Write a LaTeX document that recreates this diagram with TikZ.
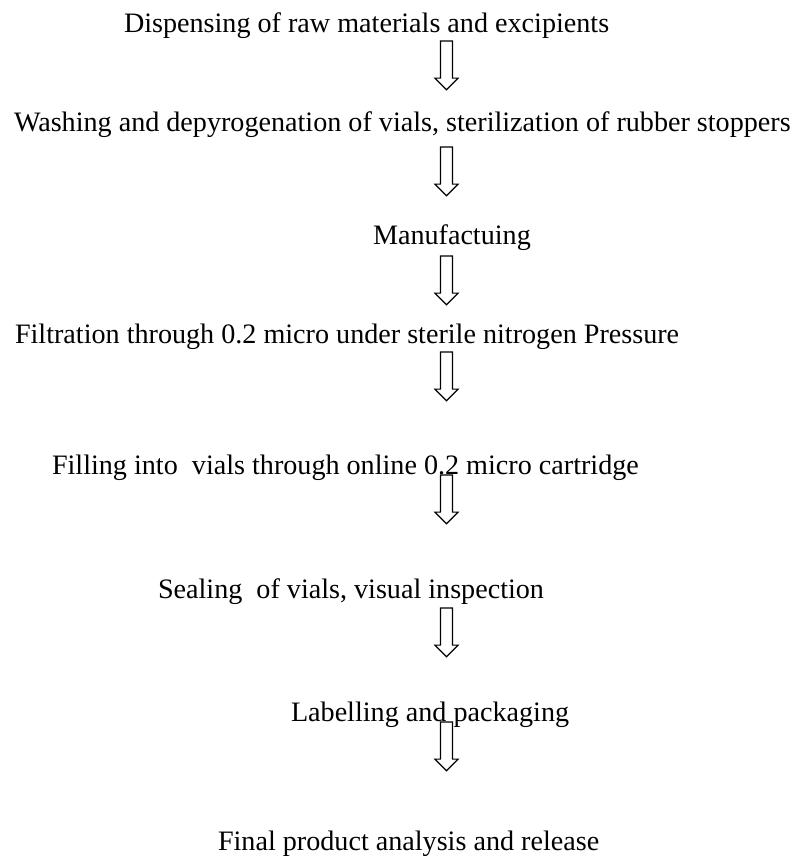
\documentclass[tikz,border=0pt]{standalone}
\usepackage{fontspec}
\setmainfont{Liberation Serif}
\usetikzlibrary{shapes.arrows}
\tikzset{
  steptext/.style={anchor=base west, inner sep=0pt, outer sep=0pt, font=\fontsize{21.1pt}{25pt}\selectfont},
  downarrow/.style={shape=single arrow, draw=black, line width=0.9pt, rotate=-90,
    inner xsep=0pt, inner ysep=4.1pt, outer sep=0pt,
    single arrow head extend=4.1pt, single arrow tip angle=90,
    minimum height=36.5pt, minimum width=16.5pt, anchor=tail},
}
\begin{document}
\begin{tikzpicture}[x=0.75pt,y=-0.75pt]
\useasboundingbox (0,0) rectangle (800,859);
\node[steptext] (s1) at (124,33) {Dispensing of raw materials and excipients};
\node[steptext] (s2) at (14,132) {Washing and depyrogenation of vials, sterilization of rubber stoppers};
\node[steptext] (s3) at (373,244) {Manufactuing};
\node[steptext] (s4) at (15,343) {Filtration through 0.2 micro under sterile nitrogen Pressure};
\node[steptext] (s5) at (52,474) {Filling into~ vials through online 0.2 micro cartridge};
\node[steptext] (s6) at (158,598) {Sealing~ of vials, visual inspection};
\node[steptext] (s7) at (291,721) {Labelling and packaging};
\node[steptext] (s8) at (218,850) {Final product analysis and release};
\node[downarrow] (a1) at (446.5,41) {};
\node[downarrow] (a2) at (446.5,147) {};
\node[downarrow] (a3) at (446.5,256) {};
\node[downarrow] (a4) at (446.5,352) {};
\node[downarrow] (a5) at (446.5,475) {};
\node[downarrow] (a6) at (446.5,608) {};
\node[downarrow] (a7) at (446.5,722) {};
\end{tikzpicture}
\end{document}
